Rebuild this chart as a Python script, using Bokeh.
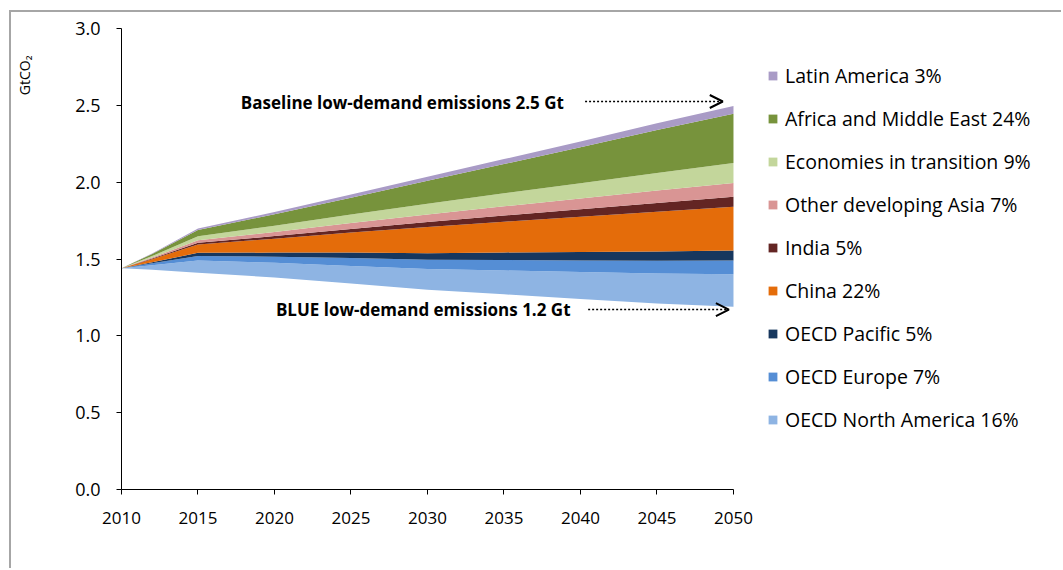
from bokeh.plotting import figure
from bokeh.models import (ColumnDataSource, Legend, LegendItem, Label, Arrow, OpenHead,
                          NumeralTickFormatter, FixedTicker, Range1d, Title)
from bokeh.embed import file_html
from bokeh.resources import INLINE

# ---- data (GtCO2) ----
years = [2010, 2012, 2015, 2020, 2025, 2030, 2035, 2040, 2045, 2050]
blue_level = [1.44, 1.43, 1.41, 1.38, 1.34, 1.30, 1.27, 1.24, 1.21, 1.19]
oecd_north_america = [0.0, 0.030, 0.080, 0.095, 0.115, 0.135, 0.155, 0.175, 0.195, 0.210]
oecd_europe = [0.0, 0.012, 0.030, 0.040, 0.052, 0.060, 0.068, 0.075, 0.083, 0.090]
oecd_pacific = [0.0, 0.007, 0.020, 0.027, 0.035, 0.043, 0.050, 0.055, 0.060, 0.065]
china = [0.0, 0.020, 0.055, 0.090, 0.130, 0.170, 0.200, 0.230, 0.260, 0.285]
india = [0.0, 0.004, 0.010, 0.017, 0.024, 0.032, 0.040, 0.048, 0.057, 0.065]
other_dev_asia = [0.0, 0.006, 0.017, 0.027, 0.038, 0.050, 0.060, 0.070, 0.080, 0.090]
economies_transition = [0.0, 0.010, 0.026, 0.040, 0.055, 0.070, 0.085, 0.100, 0.115, 0.130]
africa_middle_east = [0.0, 0.013, 0.040, 0.075, 0.110, 0.150, 0.190, 0.235, 0.280, 0.320]
latin_america = [0.0, 0.004, 0.010, 0.015, 0.020, 0.025, 0.032, 0.037, 0.043, 0.050]

series_keys = ["base", "na", "eu", "pac", "china", "india", "oda", "eit", "africa", "latam"]
series_labels = ["", "OECD North America 16%", "OECD Europe 7%", "OECD Pacific 5%", "China 22%",
                 "India 5%", "Other developing Asia 7%", "Economies in transition 9%",
                 "Africa and Middle East 24%", "Latin America 3%"]
series_colors = ["#ffffff", "#8eb4e3", "#558ed5", "#17375e", "#e46c0a", "#632523",
                 "#d99594", "#c3d69b", "#77933c", "#a99bc6"]
x_ticks = [2010, 2015, 2020, 2025, 2030, 2035, 2040, 2045, 2050]
y_ticks = [0.0, 0.5, 1.0, 1.5, 2.0, 2.5, 3.0]

source = ColumnDataSource(dict(
    year=years, base=blue_level, na=oecd_north_america, eu=oecd_europe, pac=oecd_pacific,
    china=china, india=india, oda=other_dev_asia, eit=economies_transition,
    africa=africa_middle_east, latam=latin_america))

FONT = "Open Sans"

# frame spans to the right edge; the x axis itself is bounded to 2010-2050
p = figure(width=1052, height=558, output_backend="svg", toolbar_location=None,
           x_range=Range1d(2010, 2071.57), y_range=Range1d(0, 3),
           min_border_left=110, min_border_right=0, min_border_top=16, min_border_bottom=81)
p.styles = {"margin-left": "9px", "margin-top": "10px",
            "border-left": "2px solid #a6a6a6", "border-top": "2px solid #a6a6a6"}
p.outline_line_color = None
p.xgrid.visible = False
p.ygrid.visible = False

renderers = p.varea_stack(stackers=series_keys, x="year", source=source,
                          color=series_colors)
renderers[0].visible = False

items = []
for r, lab in zip(renderers[1:], series_labels[1:]):
    items.append(LegendItem(label=lab, renderers=[r]))
items.reverse()
legend = Legend(items=items, location=(646, 56), padding=0, margin=0,
                border_line_color=None, background_fill_alpha=0,
                glyph_width=11, glyph_height=11, label_height=25, spacing=16,
                label_standoff=7, label_text_font=FONT, label_text_font_size="19.5px",
                label_text_color="#000000")
p.add_layout(legend, "center")

for ax in (p.xaxis[0], p.yaxis[0]):
    ax.axis_line_color = "#000000"
    ax.major_tick_line_color = "#000000"
    ax.major_tick_out = 5
    ax.major_tick_in = 0
    ax.minor_tick_line_color = None
    ax.major_label_text_font = FONT
    ax.major_label_text_color = "#000000"
p.xaxis.major_label_text_font_size = "17px"
p.yaxis.major_label_text_font_size = "18px"
p.xaxis.ticker = FixedTicker(ticks=x_ticks)
p.xaxis.bounds = (2010, 2050)
p.yaxis.ticker = FixedTicker(ticks=y_ticks)
p.yaxis.formatter = NumeralTickFormatter(format="0.0")
p.xaxis.major_label_standoff = 17
p.yaxis.major_label_standoff = 16

p.add_layout(Title(text="GtCO₂\n\n", align="right", offset=27, standoff=2,
                   text_font=FONT, text_font_size="14px", text_font_style="normal",
                   text_color="#000000"), "left")

p.add_layout(Label(x=2039.2, y=2.52, text="Baseline low-demand  emissions 2.5 Gt",
                   text_align="right", text_baseline="middle", text_font=FONT,
                   text_font_size="17px", text_font_style="bold", text_color="#000000"))
p.add_layout(Label(x=2039.35, y=1.17, text="BLUE low-demand emissions 1.2 Gt",
                   text_align="right", text_baseline="middle", text_font=FONT,
                   text_font_size="17px", text_font_style="bold", text_color="#000000"))

p.add_layout(Arrow(end=OpenHead(size=13, line_width=2, line_color="#000000"),
                   x_start=2040.3, y_start=2.525, x_end=2049.3, y_end=2.525,
                   line_dash="2 2", line_width=1.5, line_color="#000000"))
p.add_layout(Arrow(end=OpenHead(size=13, line_width=2, line_color="#000000"),
                   x_start=2040.5, y_start=1.171, x_end=2049.7, y_end=1.171,
                   line_dash="2 2", line_width=1.5, line_color="#000000"))

open("out.html", "w").write(file_html(p, INLINE))
